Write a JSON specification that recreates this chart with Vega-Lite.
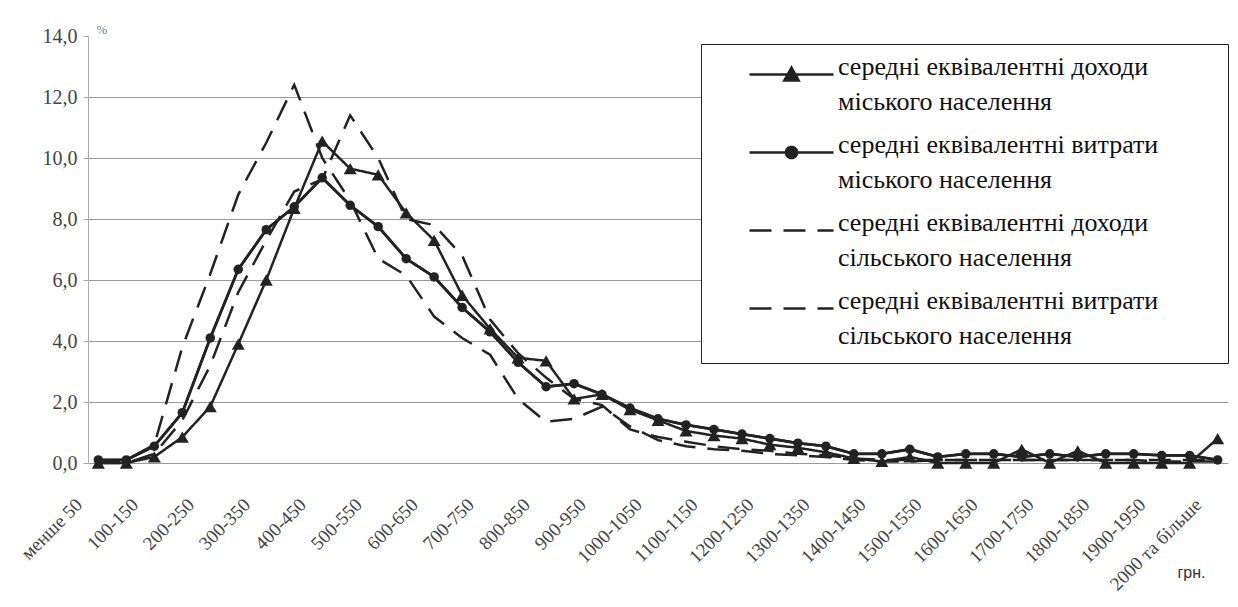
{
  "$schema": "https://vega.github.io/schema/vega-lite/v6.json",
  "width": 1140,
  "height": 427,
  "autosize": {"type": "none"},
  "padding": {"left": 88, "top": 36, "right": 10, "bottom": 144},
  "background": "white",
  "config": {"view": {"stroke": null}, "font": "Liberation Serif", "style": {"guide-label": {"lineHeight": 35}}},
  "data": {
    "values": [
      {"band": "менше 50", "ui": 0.0, "ue": 0.1, "ri": 0.0, "re": 0.0},
      {"band": "50-100", "ui": 0.0, "ue": 0.1, "ri": 0.1, "re": 0.0},
      {"band": "100-150", "ui": 0.2, "ue": 0.55, "ri": 0.6, "re": 0.3},
      {"band": "150-200", "ui": 0.85, "ue": 1.65, "ri": 3.8, "re": 1.4},
      {"band": "200-250", "ui": 1.85, "ue": 4.1, "ri": 6.2, "re": 3.2},
      {"band": "250-300", "ui": 3.9, "ue": 6.35, "ri": 8.8, "re": 5.6},
      {"band": "300-350", "ui": 6.0, "ue": 7.65, "ri": 10.5, "re": 7.3},
      {"band": "350-400", "ui": 8.35, "ue": 8.4, "ri": 12.4, "re": 8.9},
      {"band": "400-450", "ui": 10.55, "ue": 9.35, "ri": 10.0, "re": 9.3},
      {"band": "450-500", "ui": 9.65, "ue": 8.45, "ri": 8.6, "re": 11.4},
      {"band": "500-550", "ui": 9.45, "ue": 7.75, "ri": 6.7, "re": 10.0},
      {"band": "550-600", "ui": 8.2, "ue": 6.7, "ri": 6.15, "re": 8.0},
      {"band": "600-650", "ui": 7.3, "ue": 6.1, "ri": 4.8, "re": 7.8},
      {"band": "650-700", "ui": 5.5, "ue": 5.1, "ri": 4.1, "re": 6.8},
      {"band": "700-750", "ui": 4.4, "ue": 4.3, "ri": 3.55, "re": 4.7},
      {"band": "750-800", "ui": 3.45, "ue": 3.3, "ri": 2.1, "re": 3.6},
      {"band": "800-850", "ui": 3.35, "ue": 2.5, "ri": 1.35, "re": 2.8},
      {"band": "850-900", "ui": 2.1, "ue": 2.6, "ri": 1.45, "re": 2.1},
      {"band": "900-950", "ui": 2.25, "ue": 2.25, "ri": 1.85, "re": 1.9},
      {"band": "950-1000", "ui": 1.75, "ue": 1.8, "ri": 1.2, "re": 1.1},
      {"band": "1000-1050", "ui": 1.4, "ue": 1.45, "ri": 0.75, "re": 0.85},
      {"band": "1050-1100", "ui": 1.05, "ue": 1.25, "ri": 0.55, "re": 0.7},
      {"band": "1100-1150", "ui": 0.9, "ue": 1.1, "ri": 0.45, "re": 0.55},
      {"band": "1150-1200", "ui": 0.8, "ue": 0.95, "ri": 0.4, "re": 0.45},
      {"band": "1200-1250", "ui": 0.6, "ue": 0.8, "ri": 0.3, "re": 0.4},
      {"band": "1250-1300", "ui": 0.5, "ue": 0.65, "ri": 0.25, "re": 0.3},
      {"band": "1300-1350", "ui": 0.35, "ue": 0.55, "ri": 0.2, "re": 0.25},
      {"band": "1350-1400", "ui": 0.15, "ue": 0.3, "ri": 0.1, "re": 0.15},
      {"band": "1400-1450", "ui": 0.05, "ue": 0.3, "ri": 0.05, "re": 0.1},
      {"band": "1450-1500", "ui": 0.2, "ue": 0.45, "ri": 0.05, "re": 0.1},
      {"band": "1500-1550", "ui": 0.0, "ue": 0.2, "ri": 0.1, "re": 0.1},
      {"band": "1550-1600", "ui": 0.0, "ue": 0.3, "ri": 0.1, "re": 0.1},
      {"band": "1600-1650", "ui": 0.0, "ue": 0.3, "ri": 0.1, "re": 0.1},
      {"band": "1650-1700", "ui": 0.45, "ue": 0.2, "ri": 0.1, "re": 0.1},
      {"band": "1700-1750", "ui": 0.0, "ue": 0.3, "ri": 0.1, "re": 0.1},
      {"band": "1750-1800", "ui": 0.4, "ue": 0.2, "ri": 0.1, "re": 0.1},
      {"band": "1800-1850", "ui": 0.0, "ue": 0.3, "ri": 0.1, "re": 0.1},
      {"band": "1850-1900", "ui": 0.0, "ue": 0.3, "ri": 0.1, "re": 0.1},
      {"band": "1900-1950", "ui": 0.0, "ue": 0.25, "ri": 0.1, "re": 0.05},
      {"band": "1950-2000", "ui": 0.0, "ue": 0.25, "ri": 0.1, "re": 0.05},
      {"band": "2000 та більше", "ui": 0.8, "ue": 0.1, "ri": 0.1, "re": 0.05}
    ]
  },
  "transform": [{"fold": ["ui", "ue", "ri", "re"], "as": ["s", "v"]}],
  "encoding": {
    "x": {
      "field": "band",
      "type": "ordinal",
      "sort": null,
      "scale": {"type": "point", "padding": 0.37},
      "axis": {
        "values": ["менше 50", "100-150", "200-250", "300-350", "400-450", "500-550", "600-650", "700-750", "800-850", "900-950", "1000-1050", "1100-1150", "1200-1250", "1300-1350", "1400-1450", "1500-1550", "1600-1650", "1700-1750", "1800-1850", "1900-1950", "2000 та більше"],
        "labelAngle": -45,
        "labelOverlap": false,
        "labelFont": "Liberation Serif",
        "labelFontSize": 19,
        "labelColor": "#444",
        "labelPadding": 32,
        "labelOffset": -26,
        "domain": false,
        "ticks": false,
        "grid": false,
        "title": "грн.",
        "titleFont": "Liberation Sans",
        "titleFontSize": 16,
        "titleFontWeight": "normal",
        "titleColor": "#333",
        "titleAngle": 0,
        "titleAlign": "right",
        "titleBaseline": "middle",
        "titleX": 1117,
        "titleY": 109
      }
    },
    "y": {
      "field": "v",
      "type": "quantitative",
      "scale": {"domain": [0, 14], "nice": false},
      "axis": {
        "values": [0, 2, 4, 6, 8, 10, 12, 14],
        "labelExpr": "replace(format(datum.value, '.1f'), '.', ',')",
        "labelFont": "Liberation Serif",
        "labelFontSize": 20,
        "labelColor": "#444",
        "labelPadding": 6,
        "grid": true,
        "gridColor": "#999",
        "gridWidth": 1,
        "gridOpacity": {"condition": {"test": "datum.value === 14", "value": 0}, "value": 1},
        "domainColor": "#aaa",
        "tickColor": "#aaa",
        "tickSize": 5,
        "title": "%",
        "titleFont": "Liberation Serif",
        "titleFontSize": 13,
        "titleFontWeight": "normal",
        "titleColor": "#777",
        "titleAngle": 0,
        "titleAlign": "left",
        "titleBaseline": "bottom",
        "titleX": 8,
        "titleY": 0
      }
    }
  },
  "layer": [
    {
      "mark": {"type": "line", "color": "#222", "strokeWidth": 2.5},
      "encoding": {
        "strokeDash": {
          "field": "s",
          "type": "nominal",
          "scale": {"domain": ["ui", "ue", "ri", "re"], "range": [[1, 0], [1, 0], [22, 12], [22, 12]]}
        }
      }
    },
    {
      "transform": [{"filter": "datum.s === 'ue'"}],
      "mark": {"type": "line", "color": "#222", "strokeWidth": 2.8}
    },
    {
      "transform": [{"filter": "datum.s === 'ui'"}],
      "mark": {"type": "point", "shape": "triangle-up", "filled": true, "size": 170, "color": "#222", "opacity": 1}
    },
    {
      "transform": [{"filter": "datum.s === 'ue'"}],
      "mark": {"type": "point", "shape": "circle", "filled": true, "size": 90, "color": "#222", "opacity": 1}
    },
    {
      "transform": [{"filter": "datum.s === 'none'"}],
      "mark": {"type": "point", "filled": false, "color": "#222", "strokeWidth": 2.4, "opacity": 1},
      "encoding": {
        "shape": {
          "field": "s",
          "type": "nominal",
          "scale": {
            "domain": ["ui", "ue", "ri", "re"],
            "range": [
              "M-2.8,0L2.8,0M-0.47,0.4L0,-0.45L0.47,0.4Z",
              "M-2.8,0L2.8,0M-0.37,0A0.37,0.37,0,1,1,0.37,0A0.37,0.37,0,1,1,-0.37,0Z",
              "M-2.8,0L2.8,0",
              "M-2.8,0L2.8,0"
            ]
          },
          "legend": {
            "orient": "none",
            "legendX": 613,
            "legendY": 8,
            "title": null,
            "direction": "vertical",
            "fillColor": "white",
            "strokeColor": "#222",
            "padding": 14,
            "rowPadding": 16,
            "symbolSize": 900,
            "symbolOffset": 60,
            "labelOffset": 30,
            "symbolFillColor": "#222",
            "symbolStrokeColor": "#222",
            "symbolStrokeWidth": 2.6,
            "symbolOpacity": 1,
            "labelFont": "Liberation Serif",
            "labelFontSize": 26,
            "labelColor": "#111",
            "labelLimit": 800,
            "labelBaseline": "alphabetic",
            "labelExpr": "datum.label === 'ui' ? ['середні еквівалентні доходи\u00a0\u00a0\u00a0\u00a0\u00a0\u00a0\u00a0\u00a0\u00a0\u00a0\u200b', 'міського населення'] : datum.label === 'ue' ? ['середні еквівалентні витрати\u00a0\u00a0\u00a0\u00a0\u00a0\u00a0\u00a0\u00a0\u200b', 'міського населення'] : datum.label === 'ri' ? ['середні еквівалентні доходи', 'сільського населення'] : ['середні еквівалентні витрати', 'сільського населення']"
          }
        }
      }
    }
  ]
}
